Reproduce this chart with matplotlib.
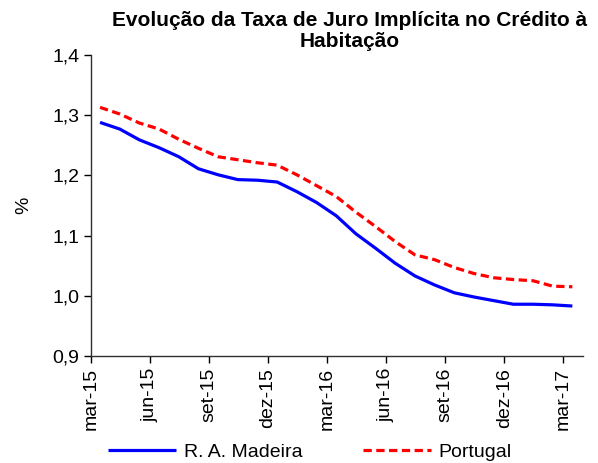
import matplotlib
matplotlib.use("Agg")
import matplotlib.pyplot as plt
import numpy as np

plt.rcParams['font.family'] = ['Liberation Sans', 'DejaVu Sans']

months = ["mar-15", "abr-15", "mai-15", "jun-15", "jul-15", "ago-15", "set-15", "out-15",
          "nov-15", "dez-15", "jan-16", "fev-16", "mar-16", "abr-16", "mai-16", "jun-16",
          "jul-16", "ago-16", "set-16", "out-16", "nov-16", "dez-16", "jan-17", "fev-17", "mar-17"]
madeira = [1.288, 1.277, 1.259, 1.246, 1.231, 1.211, 1.201, 1.193, 1.192, 1.189, 1.173, 1.155,
           1.133, 1.103, 1.079, 1.054, 1.033, 1.018, 1.005, 0.998, 0.992, 0.986, 0.986, 0.985, 0.983]
portugal = [1.313, 1.302, 1.287, 1.277, 1.260, 1.245, 1.231, 1.226, 1.221, 1.217, 1.201, 1.183,
            1.165, 1.139, 1.115, 1.090, 1.068, 1.060, 1.047, 1.037, 1.030, 1.027, 1.025, 1.016, 1.015]
tick_labels = months[::3]

W, H = 598, 463
fig = plt.figure(figsize=(W / 100, H / 100), dpi=100)
ax = fig.add_axes([91 / W, (H - 356) / H, (583 - 91) / W, (356 - 55) / H])

x = np.arange(len(months)) + 0.46
l1, = ax.plot(x, madeira, color='#0000FF', lw=2.3, solid_capstyle='butt')
l2, = ax.plot(x, portugal, color='#FF0000', lw=2.3, dashes=(2.6, 1.4))

ax.set_xlim(0, 25)
ax.set_ylim(0.9, 1.4)
ax.set_xticks(np.arange(0, len(months), 3))
ax.set_xticklabels(tick_labels, rotation=90, fontsize=14)
ax.set_yticks([0.9, 1.0, 1.1, 1.2, 1.3, 1.4])
ax.set_yticklabels(["0,9", "1,0", "1,1", "1,2", "1,3", "1,4"], fontsize=14)
ax.tick_params(direction='out', length=5, width=1, color='#000000')
for s in ['top', 'right']:
    ax.spines[s].set_visible(False)
for s in ['left', 'bottom']:
    ax.spines[s].set_color('#303030')
    ax.spines[s].set_linewidth(1)

ax.set_ylabel('%', fontsize=14, labelpad=14)
fig.text(350 / W, 1 - 31 / H, "Evolução da Taxa de Juro Implícita no Crédito à\nHabitação",
         ha='center', va='center', fontsize=15, fontweight='bold', linespacing=1.12)

fig.legend([l1, l2], ["R. A. Madeira", "Portugal"], loc='center', bbox_to_anchor=(310 / W, 1 - 452 / H),
           ncol=2, frameon=False, fontsize=14, handlelength=3.5, handletextpad=0.4, columnspacing=3.1,
           borderpad=0, borderaxespad=0)

fig.savefig('out.png', dpi=100)
